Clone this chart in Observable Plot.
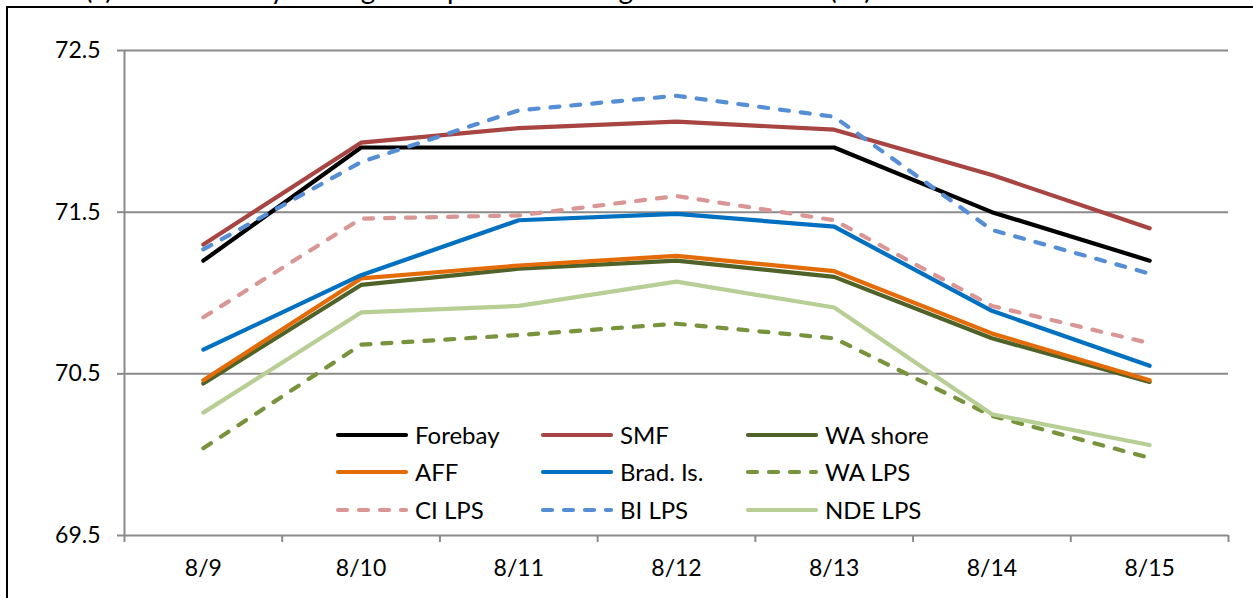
<!DOCTYPE html>
<html><head><meta charset="utf-8">
<script src="https://cdn.jsdelivr.net/npm/d3@7"></script>
<script src="https://cdn.jsdelivr.net/npm/@observablehq/plot@0.6"></script>
<style>
html,body{margin:0;padding:0;background:#fff;overflow:hidden;width:1253px;height:598px;}
#wrap{position:relative;width:1253px;height:598px;overflow:hidden;font-family:Lato,"Open Sans",sans-serif;color:#000;}
#frame{position:absolute;left:6px;top:6px;width:1300px;height:700px;border-top:2px solid #000;border-left:2px solid #000;box-sizing:border-box;}
#title{position:absolute;left:85px;top:-26px;font-size:28px;line-height:1;white-space:nowrap;}
#chart{position:absolute;left:0;top:0;}
#legend{position:absolute;left:335px;top:416px;display:grid;grid-template-columns:205px 205px 205px;grid-auto-rows:37.5px;}
.item{display:flex;align-items:center;font-size:24px;line-height:1;white-space:nowrap;}
.item svg{margin-right:6px;flex:none;}
</style></head>
<body>
<div id="wrap">
  <div id="title">(a) Shallow Daily Average Temperature in degrees Fahrenheit (°F)</div>
  <div id="frame"></div>
  <div id="chart"></div>
  <div id="legend"></div>
</div>
<script>
// ---- data ----
const dates   = ["8/9","8/10","8/11","8/12","8/13","8/14","8/15"];
const forebay = [71.20, 71.90, 71.90, 71.90, 71.90, 71.50, 71.20];
const smf     = [71.30, 71.93, 72.02, 72.06, 72.01, 71.73, 71.40];
const waShore = [70.44, 71.05, 71.15, 71.20, 71.10, 70.72, 70.45];
const aff     = [70.46, 71.09, 71.17, 71.23, 71.135, 70.75, 70.46];
const bradIs  = [70.65, 71.11, 71.45, 71.49, 71.41, 70.89, 70.55];
const waLps   = [70.04, 70.68, 70.74, 70.81, 70.72, 70.24, 69.98];
const ciLps   = [70.85, 71.46, 71.48, 71.60, 71.45, 70.92, 70.69];
const biLps   = [71.27, 71.81, 72.13, 72.22, 72.09, 71.39, 71.12];
const ndeLps  = [70.26, 70.88, 70.92, 71.07, 70.91, 70.25, 70.06];
const yTicks  = [69.5, 70.5, 71.5, 72.5];

const seriesNames  = ["Forebay","SMF","WA shore","AFF","Brad. Is.","WA LPS","CI LPS","BI LPS","NDE LPS"];
const seriesValues = [forebay, smf, waShore, aff, bradIs, waLps, ciLps, biLps, ndeLps];
const seriesColors = ["#000000","#a84542","#4f6228","#e36c09","#0070c0","#77933c","#d99694","#558ed5","#b7cf95"];
const seriesDashed = [false,false,false,false,false,true,true,true,false];

const table = [];
seriesNames.forEach((name, s) => {
  seriesValues[s].forEach((v, i) => table.push({series: name, idx: i + 0.5, date: dates[i], value: v}));
});

const DASH = "9,12";
const grid = "#8a8a8a";

const lineMarks = seriesNames.map((name, s) =>
  Plot.line(table.filter(d => d.series === name), {
    x: "idx", y: "value",
    stroke: seriesColors[s], strokeWidth: 4.2,
    strokeDasharray: seriesDashed[s] ? DASH : null,
    strokeLinecap: "round", strokeLinejoin: "round"
  })
);

const chart = Plot.plot({
  width: 1253, height: 598,
  marginLeft: 124, marginRight: 25, marginTop: 50, marginBottom: 63,
  style: {fontFamily: "Lato, 'Open Sans', sans-serif", fontSize: "23px", color: "#000", background: "transparent", overflow: "visible"},
  x: {type: "linear", domain: [0, dates.length], label: null},
  y: {domain: [69.5, 72.5], label: null},
  marks: [
    Plot.ruleY(yTicks, {x1: 0, x2: dates.length, stroke: grid, strokeWidth: 2}),
    Plot.ruleX([0], {stroke: grid, strokeWidth: 2}),
    Plot.axisY({ticks: yTicks, tickSize: 7, tickPadding: 17, stroke: grid, strokeWidth: 2, strokeOpacity: 1,
                tickFormat: d => d.toFixed(1), label: null, fill: "#000", fontSize: 23}),
    Plot.axisX({ticks: d3.range(0, dates.length + 1), tickSize: 7, stroke: grid, strokeWidth: 2, strokeOpacity: 1,
                tickFormat: () => "", label: null}),
    Plot.axisX({ticks: dates.map((d, i) => i + 0.5), tickSize: 0, tickPadding: 24,
                tickFormat: v => dates[Math.round(v - 0.5)], label: null, fill: "#000", fontSize: 23}),
    ...lineMarks
  ]
});
document.getElementById("chart").appendChild(chart);

// ---- legend ----
const legend = document.getElementById("legend");
seriesNames.forEach((name, s) => {
  const item = document.createElement("div");
  item.className = "item";
  const ns = "http://www.w3.org/2000/svg";
  const svg = document.createElementNS(ns, "svg");
  svg.setAttribute("width", 74); svg.setAttribute("height", 10);
  const ln = document.createElementNS(ns, "line");
  ln.setAttribute("x1", 3); ln.setAttribute("x2", 71); ln.setAttribute("y1", 5); ln.setAttribute("y2", 5);
  ln.setAttribute("stroke", seriesColors[s]); ln.setAttribute("stroke-width", 4.2);
  ln.setAttribute("stroke-linecap", "round");
  if (seriesDashed[s]) ln.setAttribute("stroke-dasharray", DASH);
  svg.appendChild(ln);
  item.appendChild(svg);
  const t = document.createElement("span");
  t.textContent = name;
  item.appendChild(t);
  legend.appendChild(item);
});
</script>
</body></html>
